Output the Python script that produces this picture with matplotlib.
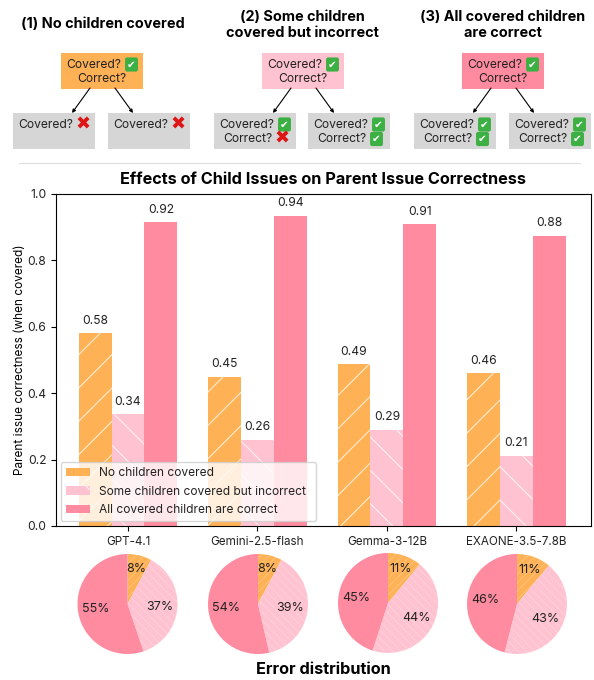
import numpy as np
import matplotlib
matplotlib.use('Agg')
import matplotlib.pyplot as plt
from matplotlib.patches import Rectangle

# data
models = ["GPT-4.1", "Gemini-2.5-flash", "Gemma-3-12B", "EXAONE-3.5-7.8B"]
series_names = ["No children covered", "Some children covered but incorrect", "All covered children are correct"]
no_children = [0.58, 0.45, 0.487, 0.46]
some_incorrect = [0.337, 0.26, 0.29, 0.212]
all_correct = [0.915, 0.935, 0.91, 0.875]
pie_no_children = [7.8, 7.8, 11, 11]
pie_some_incorrect = [37, 38.6, 44, 43]
pie_all_correct = [55.2, 53.6, 45, 46]
scenario_titles = ["(1) No children covered", "(2) Some children\ncovered but incorrect",
                   "(3) All covered children\nare correct"]

ORANGE = "#FFB155"
PINK = "#FFC2D1"
RED = "#FF8BA0"
DARK = "#222222"
W, H = 594, 680

plt.rcParams['font.family'] = ['Inter', 'DejaVu Sans']
plt.rcParams['text.color'] = DARK
plt.rcParams['xtick.labelcolor'] = DARK
plt.rcParams['ytick.labelcolor'] = DARK


def px_axes(fig, x0, y0, x1, y1, **kw):
    return fig.add_axes([x0 / W, 1 - y1 / H, (x1 - x0) / W, (y1 - y0) / H], **kw)


def mark(ax, x, y, ok):
    if ok:
        ax.text(x, y, "\u2714", color="white", fontsize=7.5, family="DejaVu Sans", ha="center", va="center",
                bbox=dict(boxstyle="round,pad=0.2", facecolor="#3CB043", edgecolor="none"))
    else:
        ax.text(x, y, "\u2716", color="#DD1515", fontsize=13, family="DejaVu Sans", ha="center", va="center")


def box_rows(ax, cx, top, color, rows):
    ax.add_patch(Rectangle((cx - 41, top), 82, 36, facecolor=color, edgecolor="none"))
    y = top + 11.5
    for label, state in rows:
        if label == "Covered?":
            off = 19
        else:
            off = 17
        if state is None:
            ax.text(cx, y, label, fontsize=8.7, ha="center", va="center")
        else:
            ax.text(cx + off, y, label, fontsize=8.7, ha="right", va="center")
            mark(ax, cx + off + 10.5, y, state)
        y += 14.5


def draw_scenarios(fig):
    ax = px_axes(fig, 0, 0, W, H)
    ax.set_xlim(0, W)
    ax.set_ylim(H, 0)
    ax.axis("off")

    ax.text(103, 24.5, scenario_titles[0], fontsize=10.4, fontweight="bold", ha="center", va="center", color="black")
    ax.text(302, 25, scenario_titles[1], fontsize=10.4, fontweight="bold", ha="center", va="center",
            color="black", linespacing=1.15)
    ax.text(503, 25, scenario_titles[2], fontsize=10.4, fontweight="bold", ha="center", va="center",
            color="black", linespacing=1.15)

    parents = [(102, ORANGE), (303, PINK), (503, RED)]
    children = [
        (54, [("Covered?", False)]), (149, [("Covered?", False)]),
        (255, [("Covered?", True), ("Correct?", False)]), (349, [("Covered?", True), ("Correct?", True)]),
        (455, [("Covered?", True), ("Correct?", True)]), (550, [("Covered?", True), ("Correct?", True)]),
    ]
    for cx, color in parents:
        box_rows(ax, cx, 53, color, [("Covered?", True), ("Correct?", None)])
        for dx in (-12, 13):
            ax.annotate("", xy=(cx + dx + (-18 if dx < 0 else 18), 113), xytext=(cx + dx, 88),
                        arrowprops=dict(arrowstyle="-|>", color="black", lw=0.8, mutation_scale=5,
                                        shrinkA=0, shrinkB=0))
    for cx, rows in children:
        box_rows(ax, cx, 113, "#D6D6D6", rows)

    ax.plot([19, 580], [163, 163], color="#DDDDDD", lw=0.8)
    ax.text(323, 180, "Effects of Child Issues on Parent Issue Correctness", fontsize=11.7, fontweight="bold",
            ha="center", va="center", color="black")
    ax.text(323, 670, "Error distribution", fontsize=11.7, fontweight="bold", ha="center", va="center",
            color="black")


def draw_bars(fig):
    ax = px_axes(fig, 55.5, 194, 590.7, 526)
    x = np.arange(len(models))
    width = 0.254
    plt.rcParams['hatch.linewidth'] = 0.8
    styles = [(no_children, ORANGE, "/"), (some_incorrect, PINK, "\\"), (all_correct, RED, "")]
    for i, (vals, color, hatch) in enumerate(styles):
        bars = ax.bar(x + (i - 1) * width, vals, width, color=color, edgecolor=(1, 1, 1, 0.75), hatch=hatch,
                      linewidth=0, label=series_names[i])
        for rect, v in zip(bars, vals):
            ax.text(rect.get_x() + rect.get_width() / 2, v + 0.019, f"{v:.2f}", ha="center", va="bottom",
                    fontsize=8.7, clip_on=False)
    ax.set_xlim(-0.56, 3.575)
    ax.set_ylim(0, 1)
    ax.set_xticks(x)
    ax.set_xticklabels(models, fontsize=8.4)
    ax.tick_params(axis="y", labelsize=8.7, length=3.5, pad=3)
    ax.tick_params(axis="x", length=3.5, pad=4)
    ax.set_ylabel("Parent issue correctness (when covered)", fontsize=8.5, labelpad=1)
    ax.legend(loc="lower left", bbox_to_anchor=(0.0103, 0.015, 0.4765, 0.17), mode="expand", fontsize=8.6,
              framealpha=0.8, borderaxespad=0, labelspacing=0.55)


def draw_pies(fig):
    centers = [(127.5, 604), (258, 604), (388, 603), (517, 604)]
    radius = 50
    for k, (cx, cy) in enumerate(centers):
        ax = px_axes(fig, cx - radius, cy - radius, cx + radius, cy + radius)
        vals = [pie_no_children[k], pie_some_incorrect[k], pie_all_correct[k]]
        plt.rcParams['hatch.linewidth'] = 0.5
        wedges, _, autotexts = ax.pie(vals, colors=[ORANGE, PINK, RED], startangle=90, counterclock=False,
                                      autopct="%.0f%%", pctdistance=0.64, radius=1,
                                      textprops=dict(fontsize=9))
        wedges[0].set_hatch("////")
        wedges[1].set_hatch("\\\\\\\\")
        for w in wedges[:2]:
            w.set_edgecolor((1, 1, 1, 0.3))
            w.set_linewidth(0)
        # small slice label sits further out
        px, py = autotexts[0].get_position()
        autotexts[0].set_position((px * 1.14, py * 1.14))
        ax.set_xlim(-1, 1)
        ax.set_ylim(-1, 1)


def main():
    fig = plt.figure(figsize=(W / 100, H / 100), dpi=100)
    draw_scenarios(fig)
    draw_bars(fig)
    draw_pies(fig)
    fig.savefig("out.png", dpi=100)
    plt.close(fig)


if __name__ == "__main__":
    main()
